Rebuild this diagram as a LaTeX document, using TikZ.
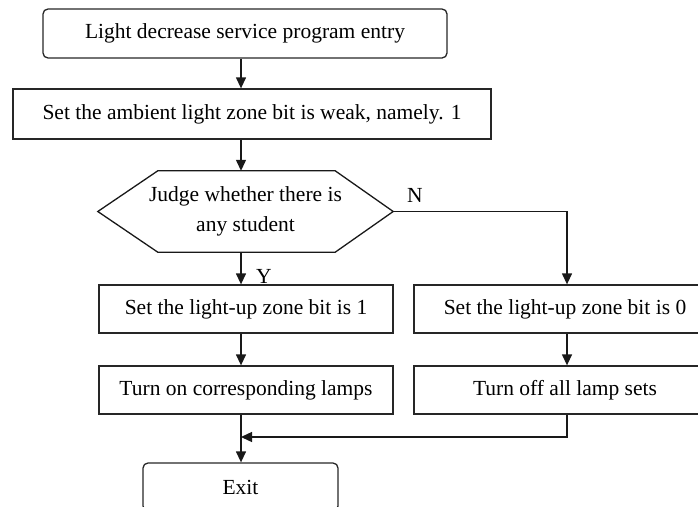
\documentclass[tikz,border=0pt]{standalone}
\usepackage{fontspec}
\setmainfont{Liberation Serif}
\usetikzlibrary{arrows.meta}

\begin{document}
\begin{tikzpicture}[x=1pt,y=-1pt,
  font=\fontsize{21.5}{30}\selectfont,
  every node/.style={inner sep=0pt},
  box/.style={draw=black!85, line width=1.3pt, minimum height=48pt},
  roundbox/.style={box, rounded corners=5pt},
  arr/.style={draw=black!90, line width=1.3pt, -{Triangle[length=11pt,width=10pt]}},
  line/.style={draw=black!90, line width=1.3pt},
  lbl/.style={font=\fontsize{21.5}{24}\selectfont}]

  \useasboundingbox (0,0) rectangle (698,506);

  % column axes
  \coordinate (axis) at (241,0);
  \coordinate (raxis) at (567,0);

  % main column
  \node[roundbox, minimum width=404pt, minimum height=49pt] (entry) at (245,33.5)
    {Light decrease service program entry};
  \node[box, minimum width=478pt, minimum height=50pt] (ambient) at (252,114)
    {Set the ambient light zone bit is weak, namely. 1};

  % decision hexagon
  \node[minimum width=295pt, minimum height=81pt, align=center] (judge) at (245.5,211.5)
    {Judge whether there is\\any student};
  \draw[line, line join=miter]
    (judge.west) -- ([xshift=60pt]judge.north west) -- ([xshift=-58pt]judge.north east)
    -- (judge.east) -- ([xshift=-58pt]judge.south east) -- ([xshift=60pt]judge.south west)
    -- cycle;

  % branches
  \node[box, minimum width=294pt] (on1) at (246,309) {Set the light-up zone bit is 1};
  \node[box, minimum width=294pt] (on2) at (246,390) {Turn on corresponding lamps};
  \node[box, minimum width=302pt] (off1) at (565,309) {Set the light-up zone bit is 0};
  \node[box, minimum width=302pt] (off2) at (565,390) {Turn off all lamp sets};

  \node[roundbox, minimum width=195pt, minimum height=48pt] (exit) at (240.5,487) {Exit};

  \coordinate (merge) at (241,437);

  % labels
  \node[lbl] (ylbl) at (264,276) {Y};
  \node[lbl] (nlbl) at (415,195) {N};

  % connectors
  \draw[arr] (entry.south -| axis) -- (ambient.north -| axis);
  \draw[arr] (ambient.south -| axis) -- (judge.north -| axis);
  \draw[arr] (judge.south -| axis) -- (on1.north -| axis);
  \draw[arr] (judge.east) -| (off1.north -| raxis);
  \draw[arr] (on1.south -| axis) -- (on2.north -| axis);
  \draw[arr] (off1.south -| raxis) -- (off2.north -| raxis);
  \draw[line] (on2.south -| axis) -- (merge);
  \draw[arr] (merge) -- (exit.north -| axis);
  \draw[arr] (off2.south -| raxis) |- (merge);
\end{tikzpicture}
\end{document}
